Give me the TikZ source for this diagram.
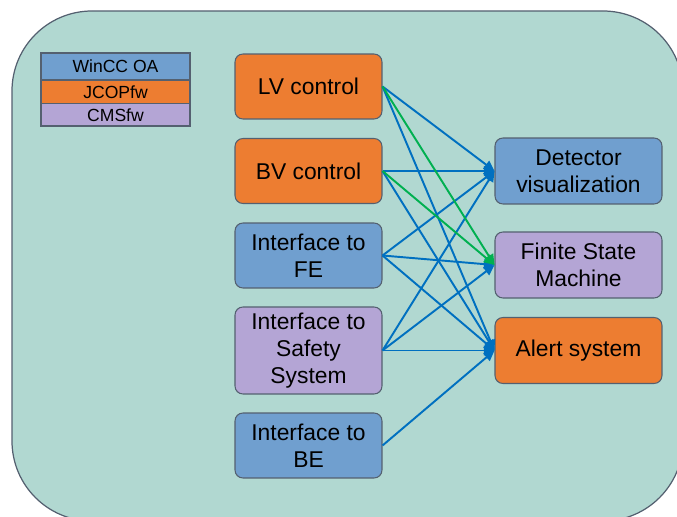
\documentclass[tikz,border=0pt]{standalone}
\usepackage{fontspec}
\setmainfont{Liberation Sans}
\usetikzlibrary{arrows.meta}
\definecolor{panelGreen}{RGB}{177,216,209}
\definecolor{edgeGray}{RGB}{84,96,112}
\definecolor{oaBlue}{RGB}{112,159,207}
\definecolor{fwOrange}{RGB}{237,125,49}
\definecolor{cmsPurple}{RGB}{180,165,213}
\definecolor{linkBlue}{RGB}{0,112,192}
\definecolor{linkGreen}{RGB}{0,176,80}
\tikzset{
	block/.style={draw=edgeGray, line width=0.6pt, rounded corners=4.5pt, align=center, inner sep=0pt, font=\fontsize{13}{15.2}\selectfont},
	tag/.style={draw=edgeGray, line width=0.6pt, minimum width=2.98cm, inner sep=0pt, font=\fontsize{10}{11}\selectfont},
	link/.style={line width=1.1pt, color=linkBlue, -{Triangle[length=6pt,width=5.5pt]}},
}

\begin{document}
\begin{tikzpicture}[x=0.02cm, y=-0.02cm]
			%%%%% START %%%%%
			
			\clip (0, 0) rectangle (677, 517);
			\draw[fill=panelGreen, draw=edgeGray, line width=0.7pt, rounded corners=1.6cm] (12, 11) rectangle (683, 521);
			
			\node[tag, fill=oaBlue, minimum height=0.54cm] (wincc) at (115.5, 66.5) {WinCC OA};
			\node[tag, fill=fwOrange, minimum height=0.47cm] (jcop) at (115.5, 91.75) {JCOPfw};
			\node[tag, fill=cmsPurple, minimum height=0.45cm] (cms) at (115.5, 114.75) {CMSfw};
			
			\node[block, fill=fwOrange, minimum width=2.94cm, minimum height=1.3cm] (lv) at (308.5, 86.5) {LV control};
			\node[block, fill=fwOrange, minimum width=2.94cm, minimum height=1.3cm] (bv) at (308.5, 171) {BV control};
			\node[block, fill=oaBlue, minimum width=2.94cm, minimum height=1.3cm] (fe) at (308.5, 255.5) {Interface to\\FE};
			\node[block, fill=cmsPurple, minimum width=2.94cm, minimum height=1.74cm] (safety) at (308.5, 350.5) {Interface to\\Safety\\System};
			\node[block, fill=oaBlue, minimum width=2.94cm, minimum height=1.3cm] (be) at (308.5, 445.5) {Interface to\\BE};
			
			\node[block, fill=oaBlue, minimum width=3.34cm, minimum height=1.32cm] (det) at (578.5, 171) {Detector\\visualization};
			\node[block, fill=cmsPurple, minimum width=3.34cm, minimum height=1.32cm] (fsm) at (578.5, 265) {Finite State\\Machine};
			\node[block, fill=fwOrange, minimum width=3.34cm, minimum height=1.32cm] (alert) at (578.5, 350.5) {Alert system};
			
			\draw[link] (lv.east) -- (det.west);
			\draw[link] (lv.east) -- (alert.west);
			\draw[link] (bv.east) -- (det.west);
			\draw[link] (bv.east) -- (alert.west);
			\draw[link] (fe.east) -- (det.west);
			\draw[link] (fe.east) -- (fsm.west);
			\draw[link] (fe.east) -- (alert.west);
			\draw[link] (safety.east) -- (det.west);
			\draw[link] (safety.east) -- (fsm.west);
			\draw[link] (safety.east) -- (alert.west);
			\draw[link] (be.east) -- (alert.west);
			
			\draw[link, color=linkGreen] (lv.east) -- (fsm.west);
			\draw[link, color=linkGreen] (bv.east) -- (fsm.west);
			
			%%%%% END %%%%%
\end{tikzpicture}
\end{document}
